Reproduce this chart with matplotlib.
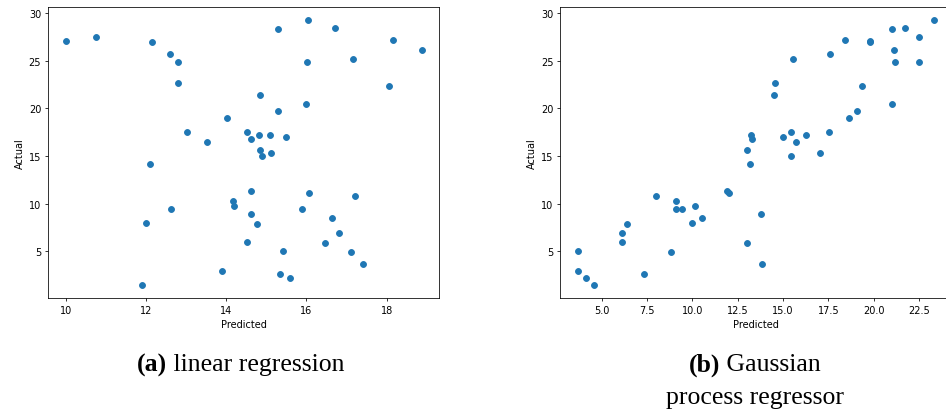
import matplotlib
matplotlib.use("Agg")
import matplotlib.pyplot as plt

# actual target values, with the predictions of both models
actual = [27.1, 27.55, 26.96, 25.7, 24.86, 22.65, 17.51, 16.43, 18.98, 28.36,
          29.27, 28.43, 27.14, 26.19, 24.9, 25.2, 22.31, 21.4, 20.42, 19.69,
          17.51, 16.78, 17.2, 17.2, 16.96, 15.62, 14.99, 15.28, 11.29, 11.11,
          10.8, 10.24, 9.79, 9.4, 8.88, 8.49, 7.9, 6.92, 5.94, 5.83,
          5.0, 4.92, 3.66, 2.86, 2.55, 2.13, 14.2, 9.4, 8.0, 1.46]

pred_linear = [10.0, 10.75, 12.15, 12.6, 12.8, 12.8, 13.03, 13.52, 14.03, 15.28,
               16.03, 16.72, 18.17, 18.87, 16.02, 17.15, 18.07, 14.85, 15.99, 15.3,
               14.52, 14.63, 14.81, 15.09, 15.5, 14.85, 14.89, 15.12, 14.61, 16.07,
               17.21, 14.17, 14.2, 15.89, 14.62, 16.63, 14.77, 16.82, 14.53, 16.47,
               15.42, 17.12, 17.41, 13.9, 15.33, 15.59, 12.11, 12.63, 12.0, 11.91]

pred_gp = [19.78, 22.51, 19.8, 17.6, 22.48, 14.57, 15.42, 15.7, 18.65, 20.99,
           23.31, 21.7, 18.41, 21.13, 21.17, 15.56, 19.34, 14.48, 20.99, 19.08,
           17.51, 13.27, 13.22, 16.26, 14.99, 12.99, 15.42, 17.04, 11.89, 12.0,
           7.97, 9.08, 10.12, 9.11, 13.8, 10.51, 6.37, 6.1, 6.1, 13.03,
           3.7, 8.83, 13.86, 3.7, 7.33, 4.11, 13.16, 9.42, 9.97, 4.59]

# subfigures were shrunk when put in the document, so scale everything down
k = 0.7
plt.rcParams['font.size'] = 10 * k
plt.rcParams['axes.linewidth'] = 0.8 * k
for ax_name in ['xtick', 'ytick']:
    plt.rcParams[ax_name + '.major.size'] = 3.5 * k
    plt.rcParams[ax_name + '.major.width'] = 0.8 * k
    plt.rcParams[ax_name + '.major.pad'] = 3.5 * k
plt.rcParams['axes.labelpad'] = 4.0 * k

fig = plt.figure(figsize=(9.46, 4.14), dpi=100)
W, H = 946, 414

def make_axes(x0, x1, y0, y1):
    return fig.add_axes([x0 / W, 1 - y1 / H, (x1 - x0) / W, (y1 - y0) / H])

ax1 = make_axes(48, 439.3, 8, 299)
ax2 = make_axes(560.3, 951.5, 8, 299)

for ax, pred in [(ax1, pred_linear), (ax2, pred_gp)]:
    ax.scatter(pred, actual, s=36 * k * k, linewidths=k, color='#1f77b4')
    ax.set_xlabel("Predicted")
    ax.set_ylabel("Actual")

# captions: bold tag then normal text, centred under each plot
cap_font = dict(family='Liberation Serif', size=18.5)
renderer = fig.canvas.get_renderer()

def caption(xc, yc, tag, rest):
    t1 = fig.text(0, 0, tag, fontweight='bold', **cap_font)
    t2 = fig.text(0, 0, rest, **cap_font)
    w1 = t1.get_window_extent(renderer).width
    w2 = t2.get_window_extent(renderer).width
    left = xc - (w1 + w2) / 2
    t1.set_position((left / W, 1 - yc / H))
    t2.set_position(((left + w1) / W, 1 - yc / H))
    t1.set_va('center')
    t2.set_va('center')

def line(xc, yc, txt):
    fig.text(xc / W, 1 - yc / H, txt, ha='center', va='center', **cap_font)

caption(241, 365, "(a)", " linear regression")
caption(755, 365, "(b)", " Gaussian")
line(755, 398, "process regressor")

fig.savefig("out.png", dpi=100)
